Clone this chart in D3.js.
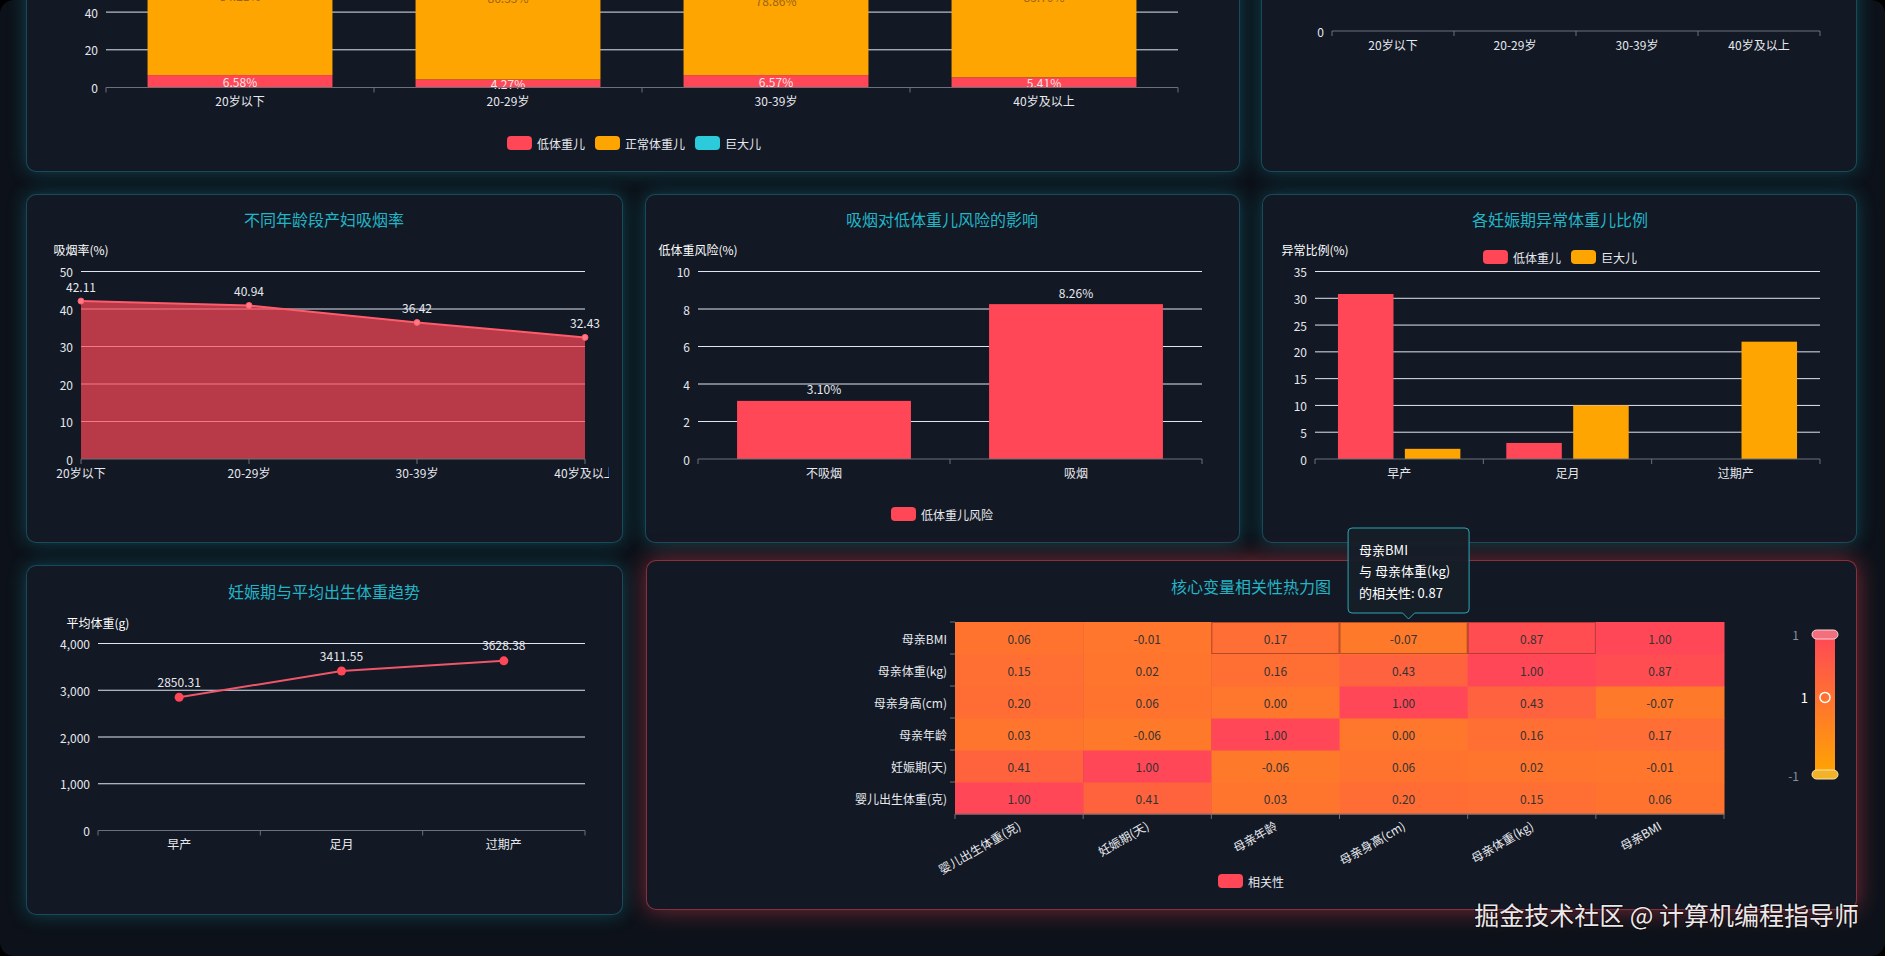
<!DOCTYPE html>
<html><head><meta charset="utf-8">
<script src="https://cdn.jsdelivr.net/npm/d3@7"></script>
<style>
html,body{margin:0;padding:0;background:#000;width:1885px;height:956px;overflow:hidden;}
#frame{position:absolute;left:0;top:0;width:1885px;height:956px;background:#0d121a;border-radius:14px;overflow:hidden;}
.panel{position:absolute;background:#121824;border:1px solid rgba(40,170,190,0.35);border-radius:10px;box-shadow:0 0 18px rgba(20,160,180,0.35);box-sizing:border-box;}
.panel.hot{border-color:rgba(255,71,87,0.5);box-shadow:0 0 24px rgba(255,71,87,0.45);}
svg{position:absolute;left:0;top:0;}
text{font-family:"Noto Sans CJK SC","Noto Sans",sans-serif;}
</style></head>
<body><div id="frame"></div>
<script>
// ---------------- DATA ----------------
const ageGroups = ["20岁以下","20-29岁","30-39岁","40岁及以上"];
const weightSeriesNames = ["低体重儿","正常体重儿","巨大儿"];
const lowBirthWeightPct = [6.58, 4.27, 6.57, 5.41];
const normalBirthWeightPct = [84.21, 86.55, 78.86, 85.70];
const macrosomiaPct = [9.21, 9.18, 14.57, 8.89];
const stackTicks = [0,20,40,60,80,100];

const topRightTicks = [0];

const smokingRate = [42.11, 40.94, 36.42, 32.43];
const smokingTicks = [0,10,20,30,40,50];

const smokeGroups = ["不吸烟","吸烟"];
const lowWeightRisk = [3.10, 8.26];
const riskTicks = [0,2,4,6,8,10];

const gestGroups = ["早产","足月","过期产"];
const abnormalSeriesNames = ["低体重儿","巨大儿"];
const abnormalLow = [30.8, 3.0, 0];
const abnormalMacro = [1.9, 10.0, 21.9];
const abnormalTicks = [0,5,10,15,20,25,30,35];

const avgBirthWeight = [2850.31, 3411.55, 3628.38];
const weightTicks = [0,1000,2000,3000,4000];

const corrVars = ["婴儿出生体重(克)","妊娠期(天)","母亲年龄","母亲身高(cm)","母亲体重(kg)","母亲BMI"];
const corrMatrix = [
  [1.00, 0.41, 0.03, 0.20, 0.15, 0.06],
  [0.41, 1.00,-0.06, 0.06, 0.02,-0.01],
  [0.03,-0.06, 1.00, 0.00, 0.16, 0.17],
  [0.20, 0.06, 0.00, 1.00, 0.43,-0.07],
  [0.15, 0.02, 0.16, 0.43, 1.00, 0.87],
  [0.06,-0.01, 0.17,-0.07, 0.87, 1.00]
];
const tooltipLines = ["母亲BMI","与 母亲体重(kg)","的相关性: 0.87"];

// ---------------- STYLE ----------------
const RED = "#ff4757", ORANGE = "#ffa502", CYAN = "#2bcbdb";
const TITLE = "#22b5c6", GRID = "#E0E6F1", AXIS = "#6E7079", LBL = "#e6e9ee";

const frame = d3.select("#frame");
const panels = [
  {x:26,y:-300,w:1214,h:472},
  {x:1261,y:-300,w:596,h:472},
  {x:26,y:194,w:597,h:349},
  {x:645,y:194,w:595,h:349},
  {x:1262,y:194,w:595,h:349},
  {x:26,y:565,w:597,h:350},
  {x:646,y:560,w:1211,h:350,hot:true}
];
panels.forEach(p=>{
  frame.append("div").attr("class","panel"+(p.hot?" hot":""))
    .style("left",p.x+"px").style("top",p.y+"px").style("width",p.w+"px").style("height",p.h+"px");
});
const svg = frame.append("svg").attr("width",1885).attr("height",956);
const defs = svg.append("defs");

function title(g, x, y, t){
  g.append("text").attr("x",x).attr("y",y).attr("text-anchor","middle").attr("dominant-baseline","central")
   .attr("font-size",16).attr("fill",TITLE).text(t);
}
function axisName(g,x,y,t){
  g.append("text").attr("x",x).attr("y",y).attr("text-anchor","middle").attr("dominant-baseline","central")
   .attr("font-size",12).attr("fill","#fff").text(t);
}
function yAxis(g, y, ticks, x0, x1, fmt){
  g.selectAll(null).data(ticks.filter(t=>t!==0)).enter().append("line")
   .attr("x1",x0).attr("x2",x1).attr("y1",d=>y(d)).attr("y2",d=>y(d)).attr("stroke",GRID).attr("stroke-width",1);
  g.selectAll(null).data(ticks).enter().append("text")
   .attr("x",x0-8).attr("y",d=>y(d)).attr("text-anchor","end").attr("dominant-baseline","central")
   .attr("font-size",12).attr("fill",LBL).text(d=>fmt?fmt(d):d);
}
function bandBoundaries(x){
  const d = x.domain();
  const b = d.map(v=>x(v)+x.bandwidth()/2-x.step()/2);
  b.push(b[b.length-1]+x.step());
  return b;
}
function xAxis(g, y0, x0, x1, tickXs, labels, labelY){
  g.append("line").attr("x1",x0).attr("x2",x1).attr("y1",y0).attr("y2",y0).attr("stroke",AXIS);
  g.selectAll(null).data(tickXs).enter().append("line")
   .attr("x1",d=>d).attr("x2",d=>d).attr("y1",y0).attr("y2",y0+5).attr("stroke",AXIS);
  g.selectAll(null).data(labels).enter().append("text")
   .attr("x",d=>d.x).attr("y",labelY).attr("text-anchor","middle").attr("dominant-baseline","central")
   .attr("font-size",12).attr("fill",LBL).text(d=>d.t);
}
function legend(g, cx, cy, items){
  const lg = g.append("g");
  let x = 0;
  items.forEach(it=>{
    lg.append("rect").attr("x",x).attr("y",cy-7).attr("width",25).attr("height",14).attr("rx",4).attr("fill",it.c);
    const t = lg.append("text").attr("x",x+30).attr("y",cy).attr("dominant-baseline","central")
      .attr("font-size",12).attr("fill",LBL).text(it.n);
    x += 30 + t.node().getComputedTextLength() + 10;
  });
  const w = x - 10;
  lg.attr("transform",`translate(${cx - w/2},0)`);
}

// ---------------- Chart 1: stacked bars ----------------
{
  const g = svg.append("g");
  const x = d3.scaleBand().domain(ageGroups).range([106,1178]).paddingInner(0.31).paddingOuter(0.155);
  const y = d3.scaleLinear().domain([0,100]).range([87.5,-101]);
  yAxis(g,y,stackTicks,106,1178);
  const rows = ageGroups.map((a,i)=>({age:a, low:lowBirthWeightPct[i], normal:normalBirthWeightPct[i], macro:macrosomiaPct[i]}));
  const keys = ["low","normal","macro"], cols = [RED,ORANGE,CYAN], lcol = ["#ffe4e6","#9a6512","#0d4a55"];
  const st = d3.stack().keys(keys)(rows);
  st.forEach((s,k)=>{
    g.selectAll(null).data(s).enter().append("rect")
      .attr("x",d=>x(d.data.age)).attr("width",x.bandwidth())
      .attr("y",d=>y(d[1])).attr("height",d=>y(d[0])-y(d[1])).attr("fill",cols[k]);
    g.selectAll(null).data(s).enter().append("text")
      .attr("x",d=>x(d.data.age)+x.bandwidth()/2).attr("y",d=>y((d[0]+d[1])/2))
      .attr("text-anchor","middle").attr("dominant-baseline","central").attr("font-size",12).attr("fill",lcol[k])
      .text(d=>d.data[keys[k]].toFixed(2)+"%");
  });
  xAxis(g,87.5,106,1178,bandBoundaries(x),ageGroups.map(a=>({x:x(a)+x.bandwidth()/2,t:a})),100);
  legend(g,634,143,weightSeriesNames.map((n,i)=>({n,c:cols[i]})));
}
// ---------------- Chart 2: top-right (cut off) ----------------
{
  const g = svg.append("g");
  const x = d3.scaleBand().domain(ageGroups).range([1332,1820]);
  const y = d3.scaleLinear().domain([0,1]).range([31,-150]);
  yAxis(g,y,topRightTicks,1332,1820);
  xAxis(g,31,1332,1820,bandBoundaries(x),ageGroups.map(a=>({x:x(a)+x.bandwidth()/2,t:a})),44);
}
// ---------------- Chart 3: smoking rate area ----------------
{
  defs.append("clipPath").attr("id","c3").append("rect").attr("x",0).attr("y",190).attr("width",609).attr("height",360);
  const g = svg.append("g").attr("clip-path","url(#c3)");
  title(g,324,219,"不同年龄段产妇吸烟率");
  axisName(g,81,249,"吸烟率(%)");
  const x = d3.scalePoint().domain(ageGroups).range([81,585]);
  const y = d3.scaleLinear().domain([0,50]).range([459,271.5]);
  yAxis(g,y,smokingTicks,81,585);
  const pts = ageGroups.map((a,i)=>({a,v:smokingRate[i]}));
  g.append("path").datum(pts).attr("fill","rgba(255,71,87,0.7)")
   .attr("d",d3.area().x(d=>x(d.a)).y0(y(0)).y1(d=>y(d.v)));
  g.append("path").datum(pts).attr("fill","none").attr("stroke","#ff5c6b").attr("stroke-width",2)
   .attr("d",d3.line().x(d=>x(d.a)).y(d=>y(d.v)));
  g.selectAll(null).data(pts).enter().append("circle").attr("cx",d=>x(d.a)).attr("cy",d=>y(d.v)).attr("r",3)
   .attr("fill","#ff7a86").attr("stroke","#ff5c6b");
  g.selectAll(null).data(pts).enter().append("text").attr("x",d=>x(d.a)).attr("y",d=>y(d.v)-15)
   .attr("text-anchor","middle").attr("dominant-baseline","central").attr("font-size",12).attr("fill",LBL).text(d=>d.v.toFixed(2));
  xAxis(g,459,81,585,ageGroups.map(a=>x(a)),ageGroups.map(a=>({x:x(a),t:a})),472);
}
// ---------------- Chart 4: smoking vs low weight risk ----------------
{
  const g = svg.append("g");
  title(g,942,219,"吸烟对低体重儿风险的影响");
  axisName(g,698,249,"低体重风险(%)");
  const x = d3.scaleBand().domain(smokeGroups).range([698,1202]).paddingInner(0.31).paddingOuter(0.155);
  const y = d3.scaleLinear().domain([0,10]).range([459,271.5]);
  yAxis(g,y,riskTicks,698,1202);
  const d = smokeGroups.map((s,i)=>({s,v:lowWeightRisk[i]}));
  g.selectAll(null).data(d).enter().append("rect").attr("x",e=>x(e.s)).attr("width",x.bandwidth())
   .attr("y",e=>y(e.v)).attr("height",e=>y(0)-y(e.v)).attr("fill",RED);
  g.selectAll(null).data(d).enter().append("text").attr("x",e=>x(e.s)+x.bandwidth()/2).attr("y",e=>y(e.v)-12)
   .attr("text-anchor","middle").attr("dominant-baseline","central").attr("font-size",12).attr("fill",LBL).text(e=>e.v.toFixed(2)+"%");
  xAxis(g,459,698,1202,bandBoundaries(x),smokeGroups.map(s=>({x:x(s)+x.bandwidth()/2,t:s})),472);
  legend(g,942,514,[{n:"低体重儿风险",c:RED}]);
}
// ---------------- Chart 5: abnormal weight by gestation ----------------
{
  const g = svg.append("g");
  title(g,1560,219,"各妊娠期异常体重儿比例");
  axisName(g,1315,249,"异常比例(%)");
  legend(g,1560,257,abnormalSeriesNames.map((n,i)=>({n,c:[RED,ORANGE][i]})));
  const x = d3.scaleBand().domain(gestGroups).range([1315,1820]).paddingInner(0.2727).paddingOuter(0.1364);
  const xs = d3.scaleBand().domain(abnormalSeriesNames).range([0,x.bandwidth()]).paddingInner(0.17);
  const y = d3.scaleLinear().domain([0,35]).range([459,271.5]);
  yAxis(g,y,abnormalTicks,1315,1820);
  const series = [abnormalLow, abnormalMacro];
  abnormalSeriesNames.forEach((n,k)=>{
    g.selectAll(null).data(gestGroups.map((c,i)=>({c,v:series[k][i]}))).enter().append("rect")
     .attr("x",e=>x(e.c)+xs(n)).attr("width",xs.bandwidth()).attr("y",e=>y(e.v)).attr("height",e=>y(0)-y(e.v))
     .attr("fill",[RED,ORANGE][k]);
  });
  xAxis(g,459,1315,1820,bandBoundaries(x),gestGroups.map(c=>({x:x(c)+x.bandwidth()/2,t:c})),472);
}
// ---------------- Chart 6: gestation vs avg weight ----------------
{
  const g = svg.append("g");
  title(g,324,591,"妊娠期与平均出生体重趋势");
  axisName(g,98,622,"平均体重(g)");
  const x = d3.scaleBand().domain(gestGroups).range([98,585]);
  const y = d3.scaleLinear().domain([0,4000]).range([830.5,643.5]);
  yAxis(g,y,weightTicks,98,585,d3.format(","));
  const pts = gestGroups.map((c,i)=>({c,v:avgBirthWeight[i]}));
  const cx = c=>x(c)+x.bandwidth()/2;
  g.append("path").datum(pts).attr("fill","none").attr("stroke","#f0566a").attr("stroke-width",2)
   .attr("d",d3.line().x(d=>cx(d.c)).y(d=>y(d.v)));
  g.selectAll(null).data(pts).enter().append("circle").attr("cx",d=>cx(d.c)).attr("cy",d=>y(d.v)).attr("r",4.5).attr("fill",RED);
  g.selectAll(null).data(pts).enter().append("text").attr("x",d=>cx(d.c)).attr("y",d=>y(d.v)-16)
   .attr("text-anchor","middle").attr("dominant-baseline","central").attr("font-size",12).attr("fill",LBL).text(d=>d.v.toFixed(2));
  xAxis(g,830.5,98,585,bandBoundaries(x),gestGroups.map(c=>({x:cx(c),t:c})),843);
}
// ---------------- Chart 7: heatmap ----------------
{
  const g = svg.append("g");
  title(g,1251,586,"核心变量相关性热力图");
  const x = d3.scaleBand().domain(corrVars).range([955,1724]);
  const y = d3.scaleBand().domain(corrVars).range([814,622]);
  const color = d3.scaleLinear().domain([-1,1]).range([ORANGE,RED]).interpolate(d3.interpolateRgb);
  const cells = [];
  corrVars.forEach((r,i)=>corrVars.forEach((c,j)=>cells.push({r,c,v:corrMatrix[i][j]})));
  g.selectAll(null).data(cells).enter().append("rect")
   .attr("x",d=>x(d.c)).attr("y",d=>y(d.r)).attr("width",x.bandwidth()+0.5).attr("height",y.bandwidth()+0.5)
   .attr("fill",d=>color(d.v));
  const hl = cells.filter(d=>d.r==="母亲BMI" && ["母亲年龄","母亲身高(cm)","母亲体重(kg)"].includes(d.c));
  g.selectAll(null).data(hl).enter().append("rect")
   .attr("x",d=>x(d.c)+0.5).attr("y",d=>y(d.r)+0.5).attr("width",x.bandwidth()-1).attr("height",y.bandwidth()-1)
   .attr("fill","none").attr("stroke","rgba(120,45,30,0.55)");
  g.selectAll(null).data(cells).enter().append("text")
   .attr("x",d=>x(d.c)+x.bandwidth()/2).attr("y",d=>y(d.r)+y.bandwidth()/2)
   .attr("text-anchor","middle").attr("dominant-baseline","central").attr("font-size",12).attr("fill","#333")
   .text(d=>d.v.toFixed(2));
  g.append("line").attr("x1",955).attr("x2",1724).attr("y1",814).attr("y2",814).attr("stroke",AXIS);
  g.selectAll(null).data(bandBoundaries(x)).enter().append("line").attr("x1",d=>d).attr("x2",d=>d).attr("y1",814).attr("y2",819).attr("stroke",AXIS);
  g.selectAll(null).data(corrVars).enter().append("line").attr("x1",950).attr("x2",955)
   .attr("y1",d=>y(d)).attr("y2",d=>y(d)).attr("stroke",AXIS);
  g.selectAll(null).data(corrVars).enter().append("text")
   .attr("x",947).attr("y",d=>y(d)+y.bandwidth()/2).attr("text-anchor","end").attr("dominant-baseline","central")
   .attr("font-size",12).attr("fill",LBL).text(d=>d);
  g.selectAll(null).data(corrVars).enter().append("text")
   .attr("transform",d=>`translate(${x(d)+x.bandwidth()/2},${824}) rotate(-30)`)
   .attr("text-anchor","end").attr("dominant-baseline","central").attr("font-size",12).attr("fill",LBL).text(d=>d);
  legend(g,1251,881,[{n:"相关性",c:RED}]);
  const grad = defs.append("linearGradient").attr("id","vm").attr("x1",0).attr("y1",0).attr("x2",0).attr("y2",1);
  grad.append("stop").attr("offset","0%").attr("stop-color",RED);
  grad.append("stop").attr("offset","100%").attr("stop-color",ORANGE);
  const vy = d3.scaleLinear().domain([-1,1]).range([775,634]);
  g.append("rect").attr("x",1815).attr("y",vy(1)).attr("width",20).attr("height",vy(-1)-vy(1)).attr("fill","url(#vm)");
  g.append("rect").attr("x",1812).attr("y",vy(1)-4).attr("width",26).attr("height",9).attr("rx",4.5)
   .attr("fill","#f2707e").attr("stroke","#ffd2d7");
  g.append("rect").attr("x",1812).attr("y",vy(-1)-5).attr("width",26).attr("height",9).attr("rx",4.5)
   .attr("fill","#f2b22a").attr("stroke","#ffe3a6");
  g.append("text").attr("x",1799).attr("y",vy(1)).attr("text-anchor","end").attr("dominant-baseline","central")
   .attr("font-size",12).attr("fill","#8a909a").text("1");
  g.append("text").attr("x",1799).attr("y",vy(-1)).attr("text-anchor","end").attr("dominant-baseline","central")
   .attr("font-size",12).attr("fill","#8a909a").text("-1");
  const hv = -0.07;
  g.append("text").attr("x",1808).attr("y",vy(hv)-12).attr("text-anchor","end").attr("dominant-baseline","central")
   .attr("font-size",13).attr("fill","#fff").text("1");
  g.append("circle").attr("cx",1825).attr("cy",vy(hv)-12).attr("r",5).attr("fill","none").attr("stroke","#fff").attr("stroke-width",1.5);
  const ax = x("母亲身高(cm)")+x.bandwidth()/2 + 5, ay = y("母亲BMI") - 9;
  const w = 121, h = 85, x0 = ax - w/2, y1 = ay, y0 = ay - h, x1 = ax + w/2, r = 4;
  g.append("path").attr("fill","rgba(22,30,40,0.95)").attr("stroke","#2aa7b2").attr("stroke-width",1)
   .attr("d",`M${x0+r},${y0} H${x1-r} Q${x1},${y0} ${x1},${y0+r} V${y1-r} Q${x1},${y1} ${x1-r},${y1} H${ax+6} L${ax},${y1+6} L${ax-6},${y1} H${x0+r} Q${x0},${y1} ${x0},${y1-r} V${y0+r} Q${x0},${y0} ${x0+r},${y0} Z`);
  g.selectAll(null).data(tooltipLines).enter().append("text")
   .attr("x",x0+11).attr("y",(d,i)=>y0+21+i*21.5).attr("dominant-baseline","central")
   .attr("font-size",13).attr("fill","#fff").text(d=>d);
}
svg.append("text").attr("x",1859).attr("y",914).attr("text-anchor","end").attr("dominant-baseline","central")
  .attr("font-size",25).attr("fill","rgba(255,255,255,0.92)").attr("style","paint-order:stroke").attr("stroke","rgba(0,0,0,0.35)").attr("stroke-width",2)
  .text("掘金技术社区 @ 计算机编程指导师");
</script>
</body></html>
